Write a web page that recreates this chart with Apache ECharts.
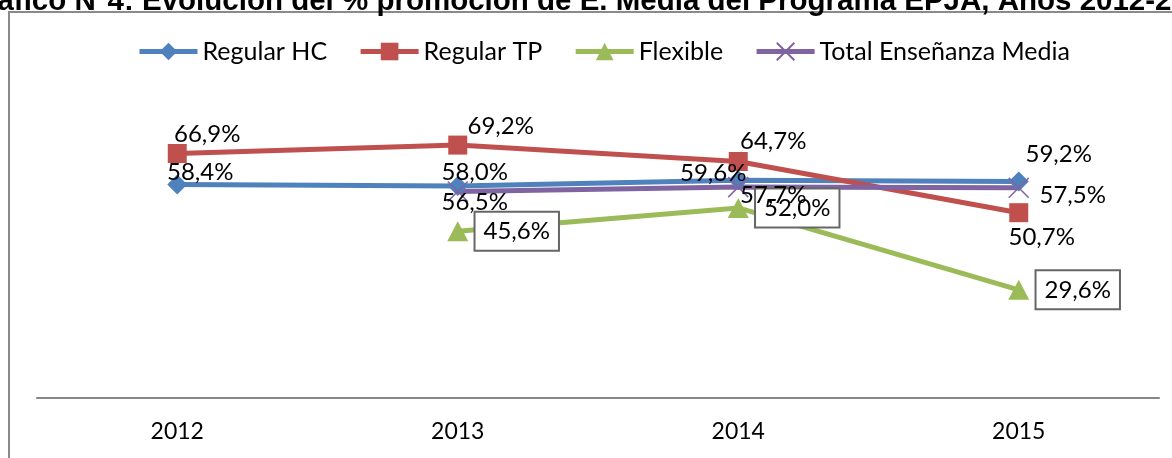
<!DOCTYPE html>
<html>
<head>
<meta charset="utf-8">
<script src="https://cdn.jsdelivr.net/npm/echarts@6/dist/echarts.min.js"></script>
<style>
html,body{margin:0;padding:0;background:#fff;}
#c{width:1172px;height:458px;}
</style>
</head>
<body>
<div id="c"></div>
<script>
const categories = ['2012', '2013', '2014', '2015'];
const regularHC = [58.4, 58.0, 59.6, 59.2];
const regularTP = [66.9, 69.2, 64.7, 50.7];
const flexible = [null, 45.6, 52.0, 29.6];
const totalEM = [null, 56.5, 57.7, 57.5];
const seriesNames = ['Regular HC', 'Regular TP', 'Flexible', 'Total Enseñanza Media'];
const titleText = 'Gráfico N°4: Evolución del % promoción de E. Media del Programa EPJA, Años 2012-2015';

// label placement (styling only): offsets of label centre from the marker centre
const offsHC = [[23, -12], [17, -14], [-25, -7], [40, -27]];
const offsTP = [[30, -19], [43, -19], [35, -20], [23, 25]];
const offsFX = [null, [59, 0], [59, 0], [59, 0]];
const offsTot = [null, [17, 11], [35, 8], [54, 7]];

const FONT = 'Lato';
const fmt = v => v.toFixed(1).replace('.', ',') + '%';

function build(values, offs, boxed) {
  return values.map((v, i) => {
    if (v == null) return null;
    const lab = {
      show: true, position: 'inside', offset: offs[i],
      formatter: () => fmt(v), color: '#000',
      fontFamily: FONT, fontSize: 24
    };
    if (boxed) {
      Object.assign(lab, {
        backgroundColor: '#fff', borderColor: '#666', borderWidth: 2,
        padding: [7, 8, 6, 8]
      });
    }
    return { value: v, label: lab };
  });
}

const colors = ['#4F81BD', '#C0504D', '#9BBB59', '#8064A2'];
const chart = echarts.init(document.getElementById('c'));
chart.setOption({
  animation: false,
  color: colors,
  graphic: [
    { type: 'rect', shape: { x: 9, y: 12, width: 1200, height: 500 },
      style: { fill: 'none', stroke: '#8a8a8a', lineWidth: 2 }, z: -1 },
    { type: 'text', left: -37, top: -13,
      style: { text: titleText, font: 'bold 29.5px "Liberation Sans", Arial, sans-serif', fill: '#000' } }
  ],
  legend: {
    top: 39, left: 137, padding: 0,
    itemWidth: 58, itemHeight: 22, itemGap: 31,
    lineStyle: { width: 5 },
    textStyle: { fontFamily: FONT, fontSize: 25, color: '#000' },
    data: seriesNames
  },
  grid: { left: 37, right: 13, top: 32.5, bottom: 60, containLabel: false },
  xAxis: {
    type: 'category', data: categories, boundaryGap: true,
    axisLine: { lineStyle: { color: '#868686', width: 2 } },
    axisTick: { show: false },
    axisLabel: { fontFamily: FONT, fontSize: 23, color: '#000', margin: 22 }
  },
  yAxis: { type: 'value', min: 0, max: 100, show: false, splitLine: { show: false } },
  series: [
    { name: seriesNames[0], type: 'line', data: build(regularHC, offsHC, false),
      symbol: 'diamond', symbolSize: 20, lineStyle: { width: 5 }, itemStyle: { color: colors[0] } },
    { name: seriesNames[1], type: 'line', data: build(regularTP, offsTP, false),
      symbol: 'rect', symbolSize: 19, lineStyle: { width: 5 }, itemStyle: { color: colors[1] } },
    { name: seriesNames[2], type: 'line', data: build(flexible, offsFX, true),
      symbol: 'triangle', symbolSize: [21, 20], lineStyle: { width: 5 }, itemStyle: { color: colors[2] } },
    { name: seriesNames[3], type: 'line', data: build(totalEM, offsTot, false),
      symbol: 'path://M0,0L10,10M10,0L0,10', symbolSize: 20, lineStyle: { width: 5, color: colors[3] },
      itemStyle: { color: colors[3], borderColor: colors[3], borderWidth: 1.5 } }
  ]
});
</script>
</body>
</html>
